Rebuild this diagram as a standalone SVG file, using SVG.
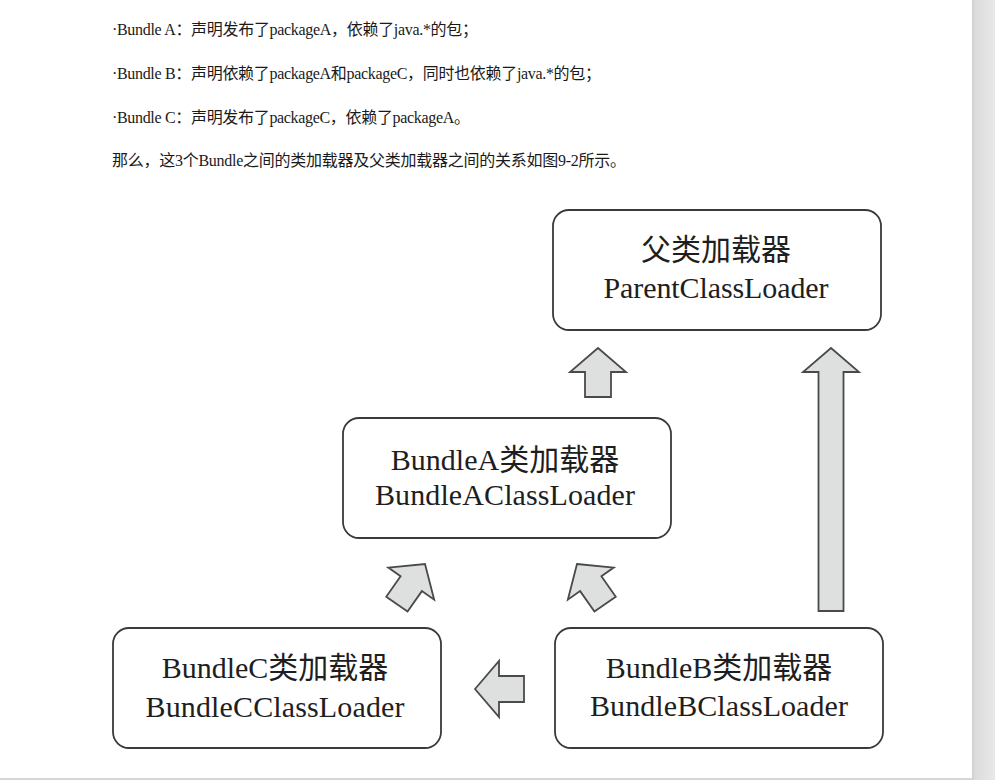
<svg xmlns="http://www.w3.org/2000/svg" width="995" height="780" viewBox="0 0 995 780">
<defs>
<linearGradient id="margin" x1="0" y1="0" x2="1" y2="0">
<stop offset="0" stop-color="#cfcfcf"/>
<stop offset="0.15" stop-color="#dcdcdc"/>
<stop offset="1" stop-color="#e8e8e8"/>
</linearGradient>
<polygon id="arr" points="0,0 28,24 13,24 13,49 -13,49 -13,24 -28,24"/>
</defs>
<style>
.para{font-family:"Liberation Serif","Noto Sans CJK SC",serif;font-size:16px;fill:#1a1a1a}
.lbl{font-family:"Liberation Serif","Noto Sans CJK SC",serif;font-size:30px;fill:#1e1e1e;text-anchor:middle}
.box{fill:#fff;stroke:#3a3a3a;stroke-width:1.8}
.ar{fill:#dedfdf;stroke:#4a4a4a;stroke-width:1.8;stroke-linejoin:miter}
</style>
<rect x="0" y="0" width="995" height="780" fill="#fff"/>
<rect x="972" y="0" width="23" height="780" fill="url(#margin)"/>
<rect x="0" y="778" width="972" height="2" fill="#d6d6d6"/>

<g id="intro">
<text class="para" x="112" y="35" textLength="366">·Bundle A：声明发布了packageA，依赖了java.*的包；</text>
<text class="para" x="112" y="79" textLength="489">·Bundle B：声明依赖了packageA和packageC，同时也依赖了java.*的包；</text>
<text class="para" x="112" y="123" textLength="358">·Bundle C：声明发布了packageC，依赖了packageA。</text>
<text class="para" x="112" y="166" textLength="514">那么，这3个Bundle之间的类加载器及父类加载器之间的关系如图9-2所示。</text>
</g>

<g id="connectors">
<use href="#arr" class="ar" transform="translate(598,348)"/>
<polygon class="ar" points="831,348 859,372 843.5,372 843.5,611 818.5,611 818.5,372 803,372"/>
<use href="#arr" class="ar" transform="translate(425,564) rotate(35)"/>
<use href="#arr" class="ar" transform="translate(577,564) rotate(-35)"/>
<use href="#arr" class="ar" transform="translate(475,689) rotate(-90)"/>
</g>

<g id="parent">
<rect class="box" x="553" y="210" width="328" height="120" rx="16"/>
<text class="lbl" x="716" y="260">父类加载器</text>
<text class="lbl" x="716" y="298" textLength="225">ParentClassLoader</text>
</g>

<g id="bundleA">
<rect class="box" x="343" y="418" width="328" height="120" rx="16"/>
<text class="lbl" x="505" y="470">BundleA类加载器</text>
<text class="lbl" x="505" y="505" textLength="260">BundleAClassLoader</text>
</g>

<g id="bundleC">
<rect class="box" x="113" y="628" width="328" height="120" rx="16"/>
<text class="lbl" x="275" y="678">BundleC类加载器</text>
<text class="lbl" x="275" y="717" textLength="259">BundleCClassLoader</text>
</g>

<g id="bundleB">
<rect class="box" x="555" y="628" width="328" height="120" rx="16"/>
<text class="lbl" x="719" y="678">BundleB类加载器</text>
<text class="lbl" x="719" y="716" textLength="258">BundleBClassLoader</text>
</g>
</svg>
